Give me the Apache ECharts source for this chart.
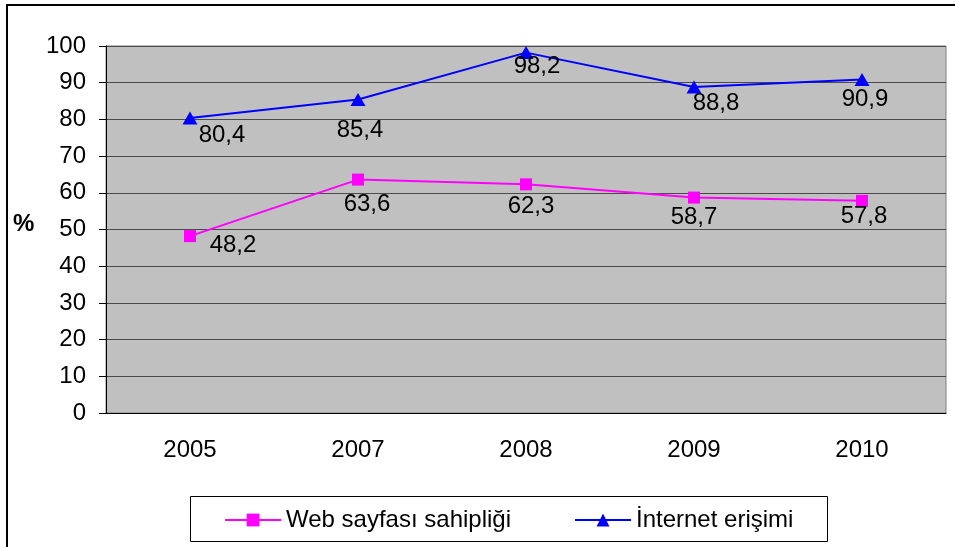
<!DOCTYPE html>
<html>
<head>
<meta charset="utf-8">
<script src="https://cdn.jsdelivr.net/npm/echarts@6/dist/echarts.min.js"></script>
<style>
  body { margin: 0; background: #fff; }
  #frame { position: absolute; left: 6px; top: 4px; width: 960px; height: 560px; border: 2px solid #000; box-sizing: border-box; }
  #chart { position: absolute; left: 0; top: 0; width: 955px; height: 547px; }
</style>
</head>
<body>
<div id="frame"></div>
<div id="chart"></div>
<script>
// data
var years = ['2005', '2007', '2008', '2009', '2010'];
var webOwnership = [48.2, 63.6, 62.3, 58.7, 57.8];
var internetAccess = [80.4, 85.4, 98.2, 88.8, 90.9];
var seriesNames = ['Web sayfası sahipliği', 'İnternet erişimi'];

// where each value label sits relative to its point
var webLabelOffsets = [[43, 9], [9, 25], [5, 22], [0, 20], [2, 16]];
var netLabelOffsets = [[32, 17], [2, 31], [11, 14], [22, 16], [3, 20]];

var font = 'Liberation Sans, Arial, sans-serif';
var fs = 24;

function withLabels(values, offsets) {
    return values.map(function (v, i) {
        return { value: v, label: { offset: offsets[i] } };
    });
}

var dom = document.getElementById('chart');
var myChart = echarts.init(dom, null, { renderer: 'canvas' });

var option = {
    animation: false,
    textStyle: { fontFamily: font },
    grid: {
        left: 106, right: 9, top: 46, bottom: 134,
        show: true, backgroundColor: '#C0C0C0', borderColor: '#808080', borderWidth: 1
    },
    legend: {
        left: 219, top: 503,
        itemWidth: 56, itemHeight: 16, itemGap: 63,
        textStyle: { fontSize: fs, color: '#000', fontFamily: font },
        data: seriesNames
    },
    graphic: [
        { type: 'rect', left: 190, top: 496, shape: { width: 637, height: 45 },
          style: { fill: '#fff', stroke: '#000', lineWidth: 1 }, z: -1 },
        { type: 'text', left: 13, top: 212,
          style: { text: '%', font: 'bold 24px ' + font, fill: '#000' } }
    ],
    xAxis: {
        type: 'category',
        data: years,
        boundaryGap: true,
        axisLine: { lineStyle: { color: '#000', width: 1 } },
        axisTick: { length: 8, lineStyle: { color: '#000' } },
        axisLabel: { margin: 25, fontSize: fs, color: '#000' }
    },
    yAxis: {
        type: 'value',
        min: 0, max: 100, interval: 10,
        axisLine: { show: true, lineStyle: { color: '#000', width: 1 } },
        axisTick: { show: true, length: 7, lineStyle: { color: '#000' } },
        axisLabel: { margin: 20, fontSize: fs, color: '#000' },
        splitLine: { lineStyle: { color: '#4a4a4a', width: 1 } }
    },
    series: [
        {
            name: seriesNames[0],
            type: 'line',
            data: withLabels(webOwnership, webLabelOffsets),
            symbol: 'rect', symbolSize: 12,
            itemStyle: { color: '#FF00FF' },
            lineStyle: { color: '#FF00FF', width: 2 },
            label: {
                show: true, position: 'inside', fontSize: fs, color: '#000',
                formatter: function (p) { return String(p.value).replace('.', ','); }
            }
        },
        {
            name: seriesNames[1],
            type: 'line',
            data: withLabels(internetAccess, netLabelOffsets),
            symbol: 'triangle', symbolSize: [15, 13],
            itemStyle: { color: '#0000FF' },
            lineStyle: { color: '#0000FF', width: 2 },
            label: {
                show: true, position: 'inside', fontSize: fs, color: '#000',
                formatter: function (p) { return String(p.value).replace('.', ','); }
            }
        }
    ]
};

if (option && typeof option === 'object') {
    myChart.setOption(option);
}
window.addEventListener('resize', myChart.resize);
</script>
</body>
</html>
